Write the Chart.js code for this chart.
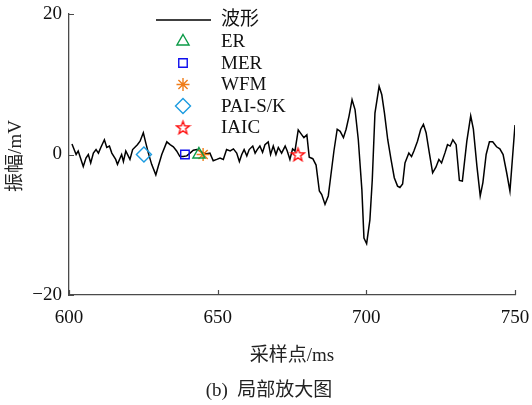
<!DOCTYPE html>
<html>
<head>
<meta charset="utf-8">
<script src="https://cdn.jsdelivr.net/npm/chart.js@4.4.0/dist/chart.umd.min.js"></script>
<style>
  html, body { margin: 0; padding: 0; background: #ffffff; }
  #wrap { width: 532px; height: 405px; }
</style>
</head>
<body>
<div id="wrap"><canvas id="c" width="532" height="405"></canvas></div>
<script>
// Waveform samples (time in ms, amplitude in mV)
const sampleTimes = [
  601.0, 602.4, 603.1, 604.8, 605.7, 606.5, 607.3, 608.2, 609.1, 609.9,
  610.7, 611.9, 612.7, 613.6, 614.4, 615.7, 616.3, 617.2, 617.7, 618.3,
  619.1, 620.5, 621.4, 623.0, 623.9, 625.0, 625.8, 626.7, 627.8, 629.2,
  630.0, 631.2, 632.9, 634.0, 635.1, 636.2, 637.3, 638.4, 639.6, 640.7,
  641.8, 643.0, 644.1, 645.2, 646.3, 647.4, 648.5, 649.7, 650.8, 651.9,
  653.0, 654.2, 655.3, 656.4, 657.3, 658.1, 658.9, 659.8, 660.6, 661.8,
  662.6, 663.3, 664.2, 665.1, 665.9, 667.0, 667.8, 668.7, 669.6, 670.4,
  671.5, 672.7, 673.4, 674.3, 675.2, 676.0, 677.1, 678.3, 679.0, 680.0,
  680.8, 682.0, 683.1, 684.2, 685.0, 686.1, 687.2, 688.0, 689.1, 690.2,
  691.2, 692.3, 693.2, 694.2, 695.2, 696.2, 697.3, 698.5, 699.2, 700.1,
  701.2, 702.0, 702.9, 704.3, 705.2, 706.1, 707.2, 708.3, 709.4, 710.5,
  711.3, 712.2, 713.0, 714.3, 715.2, 716.0, 717.2, 718.3, 719.2, 720.1,
  721.2, 722.3, 723.4, 724.4, 725.3, 726.5, 727.3, 728.2, 729.1, 730.2,
  731.3, 732.3, 733.8, 735.1, 736.0, 737.2, 738.3, 739.2, 740.3, 741.4,
  742.5, 743.8, 744.9, 746.0, 747.2, 748.3, 750.0
];
const amplitudes = [
  1.5, 0.0, 0.5, -1.7, -0.5, 0.0, -1.2, 0.2, 0.7, 0.2,
  1.0, 2.1, 1.0, 1.2, 0.2, -0.7, -1.4, -0.5, 0.0, -1.0,
  0.5, -0.7, 0.7, 1.4, 1.9, 3.1, 1.7, 0.2, -1.4, -2.9,
  -1.7, 0.0, 1.8, 1.4, 1.1, 0.5, -0.3, -0.3, -0.2, 0.2,
  0.6, 0.7, 0.5, 0.2, 0.1, 0.2, -0.9, -0.7, -0.5, -0.7,
  0.7, 0.5, 0.8, 0.2, -1.0, 0.0, 0.7, -0.2, 0.7, 1.2,
  0.2, 0.7, 1.2, 0.3, 1.4, 1.8, 0.0, 1.2, 0.0, 1.0,
  0.2, 1.2, 0.5, -0.7, 0.8, 0.5, 3.5, 2.8, 2.4, 2.8,
  -0.4, -0.6, -1.5, -5.2, -5.7, -7.1, -5.9, -3.2, 0.5, 3.6,
  3.3, 2.4, 3.6, 5.5, 7.8, 6.4, 2.1, -5.0, -11.9, -12.7,
  -9.3, -3.6, 5.9, 9.7, 8.5, 5.9, 2.1, -0.7, -3.3, -4.5,
  -4.7, -4.2, -1.2, 0.2, -0.3, 0.5, 1.9, 3.6, 4.3, 3.1,
  0.2, -2.6, -1.8, -0.7, -1.2, 0.3, 1.4, 1.2, 2.1, 1.4,
  -3.7, -3.8, 1.9, 5.5, 3.6, -1.7, -5.9, -4.0, 0.0, 1.8,
  1.8, 1.1, 0.8, 0.0, -2.6, -5.2, 4.2
];

// Arrival-time picks of each method
const pickNames = ['ER', 'MER', 'WFM', 'PAI-S/K', 'IAIC'];
const pickTimes = [643.7, 639.0, 645.1, 625.2, 677.0];
const pickAmps  = [0, 0, 0, 0, 0];

// Axis ticks
const xTicks = [600, 650, 700, 750];
const yTicks = [-20, 0, 20];

const waveName = '波形';
const xTitle = '采样点/ms';
const yTitle = '振幅/mV';
const caption = '(b)  局部放大图';

const SERIF = '"Liberation Serif", "Times New Roman", "Noto Sans CJK SC", serif';
const AXIS_COLOR = '#4a4a4a';

// Outlined five-pointed star used for the IAIC pick
function makeStar(color) {
  const cv = document.createElement('canvas');
  cv.width = 17; cv.height = 17;
  const g = cv.getContext('2d');
  const cx = 8.5, cy = 9, R = 6.8, r = 2.8;
  g.beginPath();
  for (let i = 0; i < 10; i++) {
    const a = -Math.PI / 2 + i * Math.PI / 5;
    const rr = i % 2 === 0 ? R : r;
    const px = cx + rr * Math.cos(a), py = cy + rr * Math.sin(a);
    if (i === 0) g.moveTo(px, py); else g.lineTo(px, py);
  }
  g.closePath();
  g.strokeStyle = color;
  g.lineWidth = 1.4;
  g.stroke();
  return cv;
}

const pickStyles = [
  { color: '#0a9a46', style: 'triangle', radius: 7 },
  { color: '#1010ee', style: 'rect', radius: 6 },
  { color: '#ef7d1a', style: 'star', radius: 6.5 },
  { color: '#1b9be0', style: 'rectRot', radius: 7.5 },
  { color: '#ff1010', style: makeStar('#ff1010'), radius: 7 }
];

const waveData = sampleTimes.map((t, i) => ({ x: t, y: amplitudes[i] }));

const datasets = [{
  label: waveName,
  data: waveData,
  showLine: true,
  borderColor: '#000000',
  borderWidth: 1.5,
  pointRadius: 0,
  fill: false,
  tension: 0,
  order: 10
}];
pickNames.forEach((name, i) => {
  const s = pickStyles[i];
  datasets.push({
    label: name,
    data: [{ x: pickTimes[i], y: pickAmps[i] }],
    showLine: false,
    pointStyle: s.style,
    pointRadius: s.radius,
    pointBorderColor: s.color,
    pointBackgroundColor: 'rgba(0,0,0,0)',
    pointBorderWidth: 1.4,
    borderColor: s.color,
    backgroundColor: 'rgba(0,0,0,0)',
    order: 1
  });
});

// Inward tick marks, legend block and text labels
const decorations = {
  id: 'decorations',
  afterDraw(chart) {
    const ctx = chart.ctx;
    const xs = chart.scales.x, ys = chart.scales.y;
    ctx.save();
    ctx.strokeStyle = AXIS_COLOR;
    ctx.lineWidth = 1.2;
    ctx.beginPath();
    xTicks.forEach(v => {
      const px = Math.round(xs.getPixelForValue(v)) + 0.5;
      ctx.moveTo(px, xs.top);
      ctx.lineTo(px, xs.top - 5);
    });
    yTicks.forEach(v => {
      const py = Math.round(ys.getPixelForValue(v)) + 0.5;
      ctx.moveTo(ys.right, py);
      ctx.lineTo(ys.right + 5, py);
    });
    ctx.stroke();

    // legend
    const lx0 = 156, lx1 = 211, mx = 183, tx = 221, ly0 = 20, step = 21.5;
    ctx.strokeStyle = '#000000';
    ctx.lineWidth = 1.5;
    ctx.beginPath();
    ctx.moveTo(lx0, ly0);
    ctx.lineTo(lx1, ly0);
    ctx.stroke();
    ctx.fillStyle = '#111111';
    ctx.font = '19px ' + SERIF;
    ctx.textAlign = 'left';
    ctx.textBaseline = 'middle';
    ctx.fillText(waveName, tx, ly0);
    pickNames.forEach((name, i) => {
      const y = ly0 + (i + 1) * step;
      const s = pickStyles[i];
      ctx.save();
      ctx.strokeStyle = s.color;
      ctx.fillStyle = 'rgba(0,0,0,0)';
      ctx.lineWidth = 1.4;
      Chart.helpers.drawPoint(ctx, {
        pointStyle: s.style, radius: s.radius, rotation: 0, borderWidth: 1.4
      }, mx, y);
      ctx.restore();
      ctx.fillStyle = '#111111';
      ctx.fillText(name, tx, y + 1);
    });

    // axis titles and caption
    ctx.fillStyle = '#222222';
    ctx.font = '19px ' + SERIF;
    ctx.textAlign = 'center';
    ctx.textBaseline = 'middle';
    ctx.fillText(xTitle, 292, 356);
    ctx.fillText(caption, 269, 391);
    ctx.save();
    ctx.translate(16, 156);
    ctx.rotate(-Math.PI / 2);
    ctx.fillText(yTitle, 0, 0);
    ctx.restore();
    ctx.restore();
  }
};

function clearScalePadding(scale) {
  scale.paddingLeft = 0;
  scale.paddingRight = 0;
  scale.paddingTop = 0;
  scale.paddingBottom = 0;
}

new Chart(document.getElementById('c'), {
  type: 'scatter',
  data: { datasets },
  options: {
    responsive: false,
    animation: false,
    layout: { padding: { top: 14, right: 17, left: 0, bottom: 0 } },
    plugins: { legend: { display: false }, tooltip: { enabled: false } },
    scales: {
      x: {
        type: 'linear',
        min: 600, max: 750,
        afterBuildTicks(scale) { scale.ticks = xTicks.map(v => ({ value: v })); },
        afterFit(scale) { scale.height = 110; clearScalePadding(scale); },
        grid: { display: false, drawTicks: false },
        border: { display: true, color: AXIS_COLOR, width: 1.3 },
        ticks: { color: '#111111', padding: 12, font: { family: SERIF, size: 19 }, maxRotation: 0 }
      },
      y: {
        type: 'linear',
        min: -20, max: 20,
        afterBuildTicks(scale) { scale.ticks = yTicks.map(v => ({ value: v })); },
        afterFit(scale) { scale.width = 69; clearScalePadding(scale); },
        grid: { display: false, drawTicks: false },
        border: { display: true, color: AXIS_COLOR, width: 1.3 },
        ticks: {
          color: '#111111', padding: 7, font: { family: SERIF, size: 19 },
          callback: v => (v < 0 ? '\u2212' + Math.abs(v) : String(v))
        }
      }
    }
  },
  plugins: [decorations]
});
</script>
</body>
</html>
